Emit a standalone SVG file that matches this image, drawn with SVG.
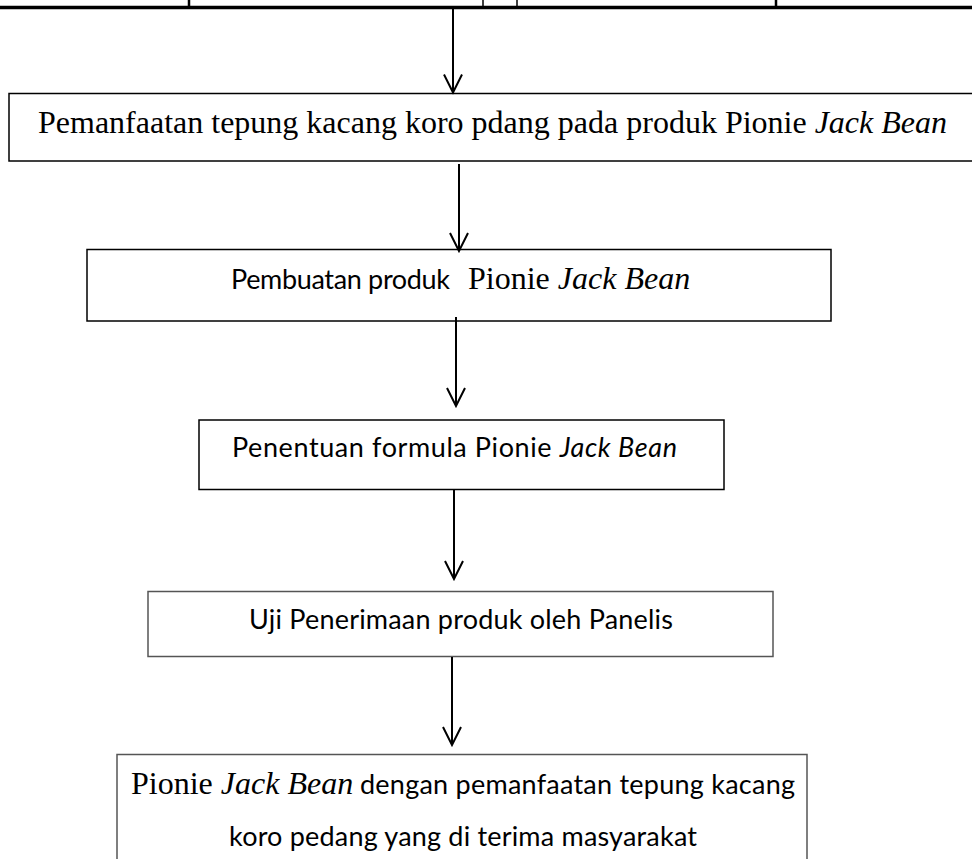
<svg xmlns="http://www.w3.org/2000/svg" width="972" height="859" viewBox="0 0 972 859">
<style>
.box{fill:#fff;stroke:#000;stroke-width:1.5}
.gbox{fill:#fff;stroke:#555;stroke-width:1.5}
.serif{font-family:"Liberation Serif","Times New Roman",serif;font-size:32px;fill:#000}
.sans{font-family:Lato,"Open Sans",sans-serif;font-size:27px;fill:#000}
.it{font-style:italic}
.conn{stroke:#000;stroke-width:2;fill:none}
</style>
<defs>
<marker id="arr" markerUnits="userSpaceOnUse" markerWidth="22" markerHeight="22" viewBox="0 0 22 22" refX="20" refY="11" orient="auto">
<path d="M2,2 L20,11 L2,20" fill="none" stroke="#000" stroke-width="2"/>
</marker>
</defs>
<rect width="972" height="859" fill="#fff"/>
<g id="top-frame">
<line x1="0" y1="7.5" x2="972" y2="7.5" stroke="#000" stroke-width="3.5"/>
<line x1="189" y1="0" x2="189" y2="7" stroke="#000" stroke-width="2.5"/>
<line x1="483" y1="0" x2="483" y2="7" stroke="#000" stroke-width="1.5"/>
<line x1="517" y1="0" x2="517" y2="7" stroke="#000" stroke-width="1.5"/>
<line x1="776" y1="0" x2="776" y2="7" stroke="#000" stroke-width="2.5"/>
</g>
<g id="node1">
<rect class="box" x="9" y="93.5" width="970" height="67.5"/>
<text class="serif" x="38" y="133">Pemanfaatan tepung kacang koro pdang pada produk Pionie <tspan class="it">Jack Bean</tspan></text>
</g>
<g id="node2">
<rect class="box" x="87" y="249.5" width="744" height="71.5"/>
<text class="sans" x="231" y="289" textLength="219">Pembuatan produk</text>
<text class="serif" x="468" y="289">Pionie <tspan class="it">Jack Bean</tspan></text>
</g>
<g id="node3">
<rect class="box" x="199" y="420" width="525" height="69.5" stroke="#222"/>
<text class="sans" x="232" y="457" textLength="445">Penentuan formula Pionie <tspan class="it">Jack Bean</tspan></text>
</g>
<g id="node4">
<rect class="gbox" x="148" y="591.5" width="625" height="65"/>
<text class="sans" x="249" y="629" textLength="424">Uji Penerimaan produk oleh Panelis</text>
</g>
<g id="node5">
<rect class="gbox" x="117" y="754.5" width="690" height="120"/>
<text class="serif" x="131" y="794">Pionie <tspan class="it">Jack Bean</tspan></text>
<text class="sans" x="360" y="794" textLength="435">dengan pemanfaatan tepung kacang</text>
<text class="sans" x="229" y="846" textLength="468">koro pedang yang di terima masyarakat</text>
</g>
<g id="connectors">
<line class="conn" x1="453" y1="9" x2="453" y2="92.5" marker-end="url(#arr)"/>
<line class="conn" x1="459" y1="164" x2="459" y2="251" marker-end="url(#arr)"/>
<line class="conn" x1="456" y1="317" x2="456" y2="406" marker-end="url(#arr)"/>
<line class="conn" x1="454" y1="489" x2="454" y2="579" marker-end="url(#arr)"/>
<line class="conn" x1="452" y1="657" x2="452" y2="745" marker-end="url(#arr)"/>
</g>
</svg>
